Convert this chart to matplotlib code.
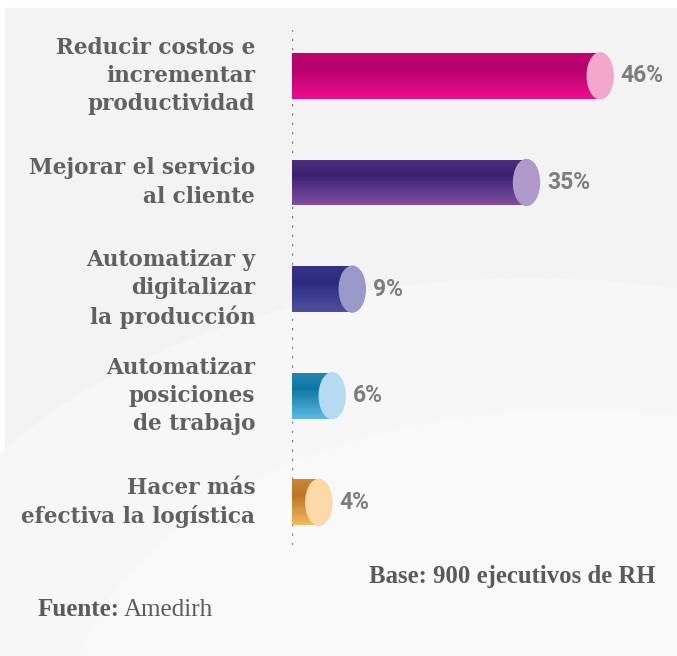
import matplotlib.pyplot as plt
import numpy as np
from matplotlib.patches import Ellipse, Rectangle
from matplotlib.colors import to_rgb

labels = ["Reducir costos e\nincrementar\nproductividad",
          "Mejorar el servicio\nal cliente",
          "Automatizar y\ndigitalizar\nla producción",
          "Automatizar\nposiciones\nde trabajo",
          "Hacer más\nefectiva la logística"]
values = [46, 35, 9, 6, 4]
value_labels = ["46%", "35%", "9%", "6%", "4%"]

# body gradient (dark, light) and cap colour per bar
dark = ["#b3006a", "#3b2070", "#2c2a80", "#0e76a3", "#bd7427"]
light = ["#ee0c8f", "#8150a2", "#4d509e", "#5eb8e5", "#f6b960"]
caps = ["#f3a8cb", "#b09aca", "#9b98ca", "#b5daf1", "#fcd9a7"]

W, H = 677, 656
fig = plt.figure(figsize=(W / 100, H / 100), dpi=100)
fig.patch.set_facecolor("white")

# soft grey background with a lighter sweep
bg = fig.add_axes([0, 0, 1, 1], zorder=-10)
bg.set_xlim(0, 1)
bg.set_ylim(0, 1)
bg.axis("off")
bg.add_patch(Rectangle((0.008, 0), 0.99, 0.988, color="#f3f3f3"))
bg.add_patch(Ellipse((0.78, -0.05), 1.9, 1.25, color="#f7f7f7"))
bg.add_patch(Ellipse((0.85, -0.1), 1.5, 0.95, color="#f9f9f9"))

left_px, top_px, bottom_px = 292, 30, 545
px_per_unit = 6.7
ax_w = (W - left_px) / W
ax = fig.add_axes([left_px / W, (H - bottom_px) / H, ax_w, (bottom_px - top_px) / H])
ax.set_xlim(0, (W - left_px) / px_per_unit)
ax.set_ylim(4.40, -0.43)
ax.axis("off")

bar_h = 0.43
n_strips = 40
for i, v in enumerate(values):
    d, l = np.array(to_rgb(dark[i])), np.array(to_rgb(light[i]))
    edges = np.linspace(i - bar_h / 2, i + bar_h / 2, n_strips + 1)
    for k in range(n_strips):
        t = (k + 0.5) / n_strips
        # darkest band a bit above the middle, lighter towards the bottom
        if t < 0.35:
            m = 0.25 * (1 - t / 0.35)
        else:
            m = (t - 0.35) / 0.65
        c = d + (l - d) * m
        ax.barh((edges[k] + edges[k + 1]) / 2, v, height=edges[1] - edges[0],
                color=c, linewidth=0, zorder=2)
    cap_w = 26 / px_per_unit
    ax.add_patch(Ellipse((v, i), cap_w, bar_h, color=caps[i], zorder=3))
    ax.text(v + cap_w / 2 + 1.1, i, value_labels[i], ha="left", va="center",
            fontsize=16.5, fontweight="bold", color="#7d7d7d", family="Roboto")
    ax.text(-5.5, i, labels[i], ha="right", va="center", fontsize=15.5,
            fontweight="bold", color="#616161", family="DejaVu Serif",
            linespacing=1.36)

# dotted baseline
ax.axvline(0, color="#7a7a7a", linestyle=(0, (1, 3.2)), linewidth=1.6, zorder=1)

fig.text(655 / W, 1 - 577 / H, "Base: 900 ejecutivos de RH", ha="right",
         va="center", fontsize=17.8, fontweight="bold", color="#5a5a5a",
         family="Liberation Serif")
t1 = fig.text(38 / W, 1 - 610 / H, "Fuente:", ha="left", va="center",
              fontsize=18, fontweight="bold", color="#5a5a5a",
              family="Liberation Serif")
fig.canvas.draw()
bb = t1.get_window_extent()
fig.text((bb.x1 + 4) / W, 1 - 610 / H, "Amedirh", ha="left", va="center",
         fontsize=18, color="#5a5a5a", family="Liberation Serif")

fig.savefig("out.png", dpi=100, facecolor=fig.get_facecolor())
